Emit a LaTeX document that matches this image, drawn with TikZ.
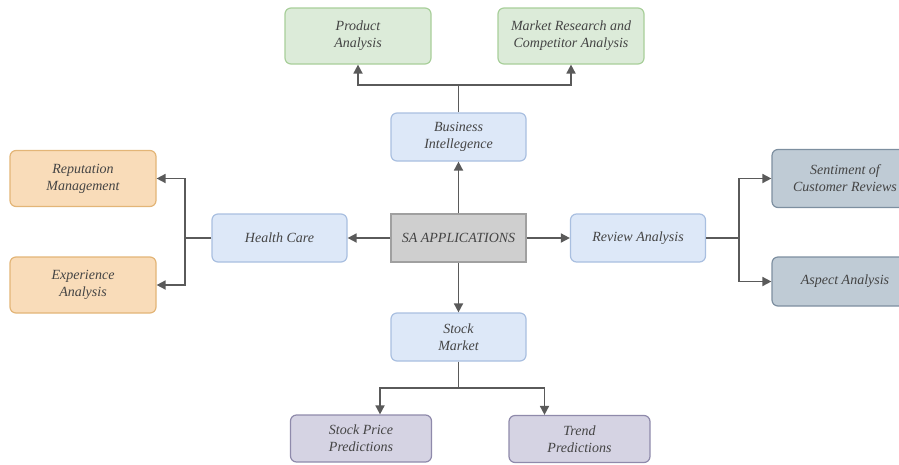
\documentclass[tikz,border=0pt]{standalone}
\usepackage{fontspec}
\setmainfont{Liberation Serif}
\usetikzlibrary{arrows.meta}
\definecolor{txt}{HTML}{444444}
\definecolor{ln}{HTML}{5A5A5A}
\tikzset{
  base/.style={draw, rounded corners=6pt, line width=1.2pt, align=center, text=txt,
    font=\fontsize{14}{17}\selectfont\itshape, inner sep=0pt},
  greenbox/.style={base, fill={rgb,255:red,220;green,235;blue,217}, draw={rgb,255:red,168;green,207;blue,154}, minimum width=146pt, minimum height=56pt},
  orangebox/.style={base, fill={rgb,255:red,249;green,220;blue,185}, draw={rgb,255:red,227;green,181;blue,119}, minimum width=146pt, minimum height=56pt},
  bluebox/.style={base, fill={rgb,255:red,221;green,232;blue,248}, draw={rgb,255:red,169;green,191;blue,224}, minimum width=135pt, minimum height=48pt},
  graybox/.style={base, rounded corners=0pt, fill={rgb,255:red,207;green,207;blue,207}, draw={rgb,255:red,160;green,160;blue,160}, minimum width=135pt, minimum height=48pt},
  slatebox/.style={base, fill={rgb,255:red,191;green,203;blue,213}, draw={rgb,255:red,125;green,143;blue,160}, minimum width=146pt},
  purplebox/.style={base, fill={rgb,255:red,213;green,211;blue,227}, draw={rgb,255:red,143;green,138;blue,171}, minimum width=141pt, minimum height=47pt},
  conn/.style={draw=ln, line width=1.7pt, -{Triangle[length=9pt,width=9pt]}},
  plain/.style={draw=ln, line width=1.7pt},
}
\begin{document}
\begin{tikzpicture}[x=1pt,y=-1pt]
\useasboundingbox (0,0) rectangle (899,464);
\clip (0,0) rectangle (899,464);
\node[greenbox] (prod) at (358,36) {Product\\Analysis};
\node[greenbox] (mkt) at (571,36) {Market Research and\\Competitor Analysis};
\node[bluebox] (bi) at (458.5,137) {Business\\Intellegence};
\node[graybox] (sa) at (458.5,238) {SA APPLICATIONS};
\node[bluebox] (hc) at (279.5,238) {Health Care};
\node[bluebox] (ra) at (638,238) {Review Analysis};
\node[orangebox] (rep) at (83,178.5) {Reputation\\Management};
\node[orangebox] (exp) at (83,285) {Experience\\Analysis};
\node[slatebox, minimum height=58pt] (sent) at (845,178.5) {Sentiment of\\Customer Reviews};
\node[slatebox, minimum height=49pt] (asp) at (845,281.5) {Aspect Analysis};
\node[bluebox] (sm) at (458.5,337) {Stock\\Market};
\node[purplebox] (spp) at (361,438.5) {Stock Price\\Predictions};
\node[purplebox] (tp) at (579.5,439) {Trend\\Predictions};

\coordinate (bj) at (458.5,85);
\coordinate (hj) at (185,238);
\coordinate (rj) at (739,238);
\coordinate (sj) at (458.5,388);

\draw[conn] (sa) -- (bi);
\draw[conn] (sa) -- (hc);
\draw[conn] (sa) -- (ra);
\draw[conn] (sa) -- (sm);

\draw[plain] (bi.north) -- (bj);
\draw[conn] (bj) -| (prod.south);
\draw[conn] (bj) -| (mkt.south);

\draw[plain] (hc.west) -- (hj);
\draw[conn] (hj) |- (rep.east);
\draw[conn] (hj) |- (exp.east);

\draw[plain] (ra.east) -- (rj);
\draw[conn] (rj) |- (sent.west);
\draw[conn] (rj) |- (asp.west);

\draw[plain] (sm.south) -- (sj);
\draw[conn] (sj) -| ([xshift=19pt]spp.north);
\draw[conn] (sj) -| ([xshift=-35pt]tp.north);
\end{tikzpicture}
\end{document}
